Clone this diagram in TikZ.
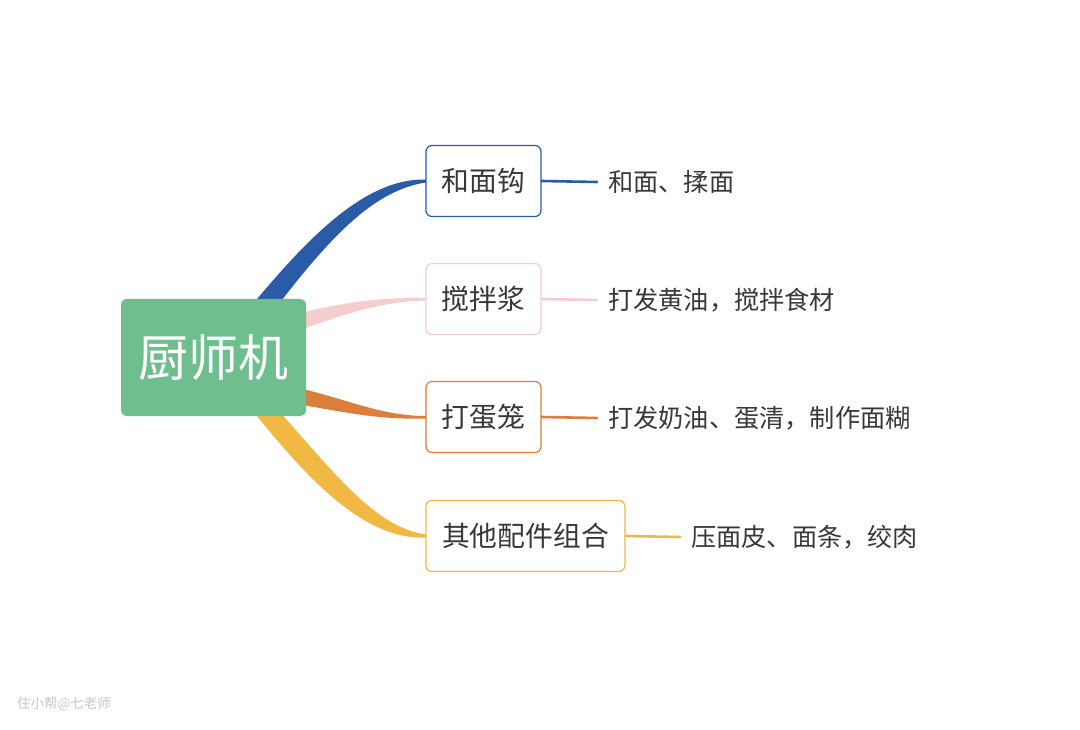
\documentclass[tikz,border=0pt]{standalone}
\usepackage{fontspec}
\setmainfont{Noto Sans CJK SC}
\definecolor{cgreen}{HTML}{6FBF8E}
\definecolor{cblue}{HTML}{2A5BA7}
\definecolor{cpink}{HTML}{F6CDCE}
\definecolor{corange}{HTML}{DC7F3C}
\definecolor{cyellow}{HTML}{F1B944}
\definecolor{ctext}{HTML}{383838}
\begin{document}
\begin{tikzpicture}[x=1pt,y=-1pt,
  rootbox/.style={fill=cgreen,rounded corners=6pt,minimum width=185pt,minimum height=117pt,inner sep=0pt,text=white,font=\fontsize{50}{56}\selectfont},
  topicbox/.style={draw,fill=white,line width=1.2pt,rounded corners=6pt,minimum height=71pt,inner xsep=15pt,inner ysep=0pt,text=ctext,font=\fontsize{27.8}{32}\selectfont},
  leaf/.style={anchor=west,inner sep=0pt,text=ctext,font=\fontsize{25.2}{30}\selectfont},
  leafline/.style={line width=2.6pt,line cap=round}]
\useasboundingbox (0,0) rectangle (1080,730);
\fill[white] (0,0) rectangle (1080,730);
% ribbons
\fill[cblue] (252,305) .. controls (308,238) and (365,178) .. (426,179.5) -- (426,182.5) .. controls (375,190) and (332,235) .. (278,305) -- cycle;
\fill[cpink] (290,316) .. controls (340,302) and (385,297) .. (426,298) -- (426,300.5) .. controls (385,301) and (345,313) .. (290,334) -- cycle;
\fill[corange] (290,386) .. controls (345,398) and (380,416) .. (426,416) -- (426,418.5) .. controls (375,420) and (340,411) .. (290,403) -- cycle;
\fill[cyellow] (278,410) .. controls (332,470) and (375,528) .. (426,534.5) -- (426,537.5) .. controls (365,540) and (310,482) .. (252,410) -- cycle;
% nodes
\node[rootbox] (root) at (213.5,357.5) {厨师机};
\node[topicbox,draw=cblue,minimum width=115pt] (t1) at (483.5,181) {和面钩};
\node[topicbox,draw=cpink,minimum width=115pt] (t2) at (483.5,299) {搅拌浆};
\node[topicbox,draw=corange,minimum width=115pt] (t3) at (483.5,417) {打蛋笼};
\node[topicbox,draw=cyellow,minimum width=199pt] (t4) at (525.5,536) {其他配件组合};
\node[leaf] (l1) at (608,182) {和面、揉面};
\node[leaf] (l2) at (608,300) {打发黄油，搅拌食材};
\node[leaf] (l3) at (608,418) {打发奶油、蛋清，制作面糊};
\node[leaf] (l4) at (691,537) {压面皮、面条，绞肉};
\coordinate (e1) at (597,182);
\coordinate (e2) at (597,300);
\coordinate (e3) at (597,418);
\coordinate (e4) at (680,537);
\draw[leafline,cblue] (t1.east) .. controls (570,181) .. (e1);
\draw[leafline,cpink] (t2.east) .. controls (570,299) .. (e2);
\draw[leafline,corange] (t3.east) .. controls (570,417) .. (e3);
\draw[leafline,cyellow] (t4.east) .. controls (653,536) .. (e4);
% watermark
\node[text=black!22,font=\fontsize{13.5}{15}\selectfont,inner sep=0pt,anchor=west] (wm) at (17,704) {住小帮@七老师};
\end{tikzpicture}
\end{document}
